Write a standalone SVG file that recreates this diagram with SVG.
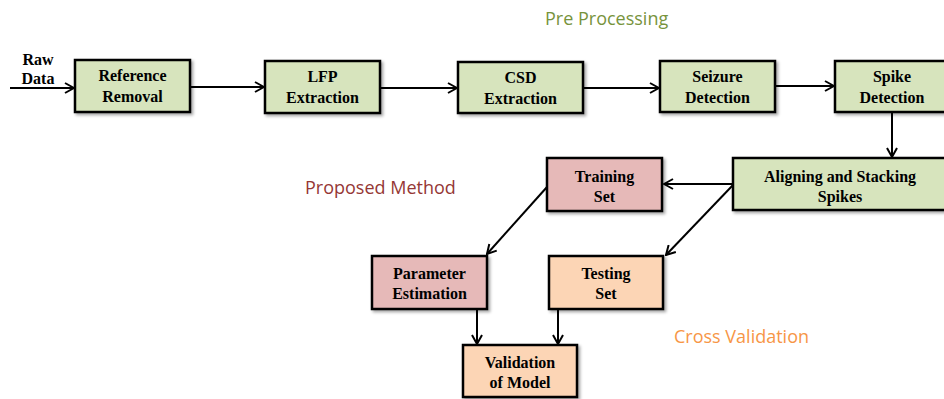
<svg xmlns="http://www.w3.org/2000/svg" width="944" height="399" viewBox="0 0 944 399">
<style>
.box{stroke:#000;stroke-width:2.5}
.g{fill:#D7E4BD}
.p{fill:#E6B9B8}
.o{fill:#FCD5B5}
.t{font-family:"Liberation Serif","Times New Roman",serif;font-weight:bold;font-size:16px;text-anchor:middle;fill:#000}
.lbl{font-family:"Open Sans","Noto Sans",sans-serif;font-size:18px}
.c{stroke:#000;stroke-width:2;fill:none;marker-end:url(#ah)}
</style>
<defs>
<marker id="ah" viewBox="0 0 12 12" refX="11" refY="6" markerWidth="12" markerHeight="12" markerUnits="userSpaceOnUse" orient="auto">
<path d="M2,1 L11,6 L2,11" fill="none" stroke="#000" stroke-width="2"/>
</marker>
<filter id="sh" x="-10%" y="-10%" width="130%" height="140%">
<feDropShadow dx="2" dy="2" stdDeviation="1.5" flood-color="#000" flood-opacity="0.35"/>
</filter>
</defs>
<rect width="944" height="399" fill="#fff"/>
<g id="labels">
<text class="lbl" x="545" y="25" fill="#77933C">Pre Processing</text>
<text class="lbl" x="305" y="194" fill="#953735">Proposed Method</text>
<text class="lbl" x="674" y="343" fill="#F79646">Cross Validation</text>
</g>
<g id="rawdata">
<text class="t" x="38" y="65">Raw</text>
<text class="t" x="38" y="84">Data</text>
</g>
<g id="connectors">
<line class="c" x1="10" y1="88" x2="74" y2="88"/>
<line class="c" x1="191" y1="87" x2="264" y2="87"/>
<line class="c" x1="381" y1="88" x2="457" y2="88"/>
<line class="c" x1="584" y1="88" x2="659" y2="88"/>
<line class="c" x1="776" y1="86" x2="834" y2="86"/>
<line class="c" x1="892" y1="113" x2="892" y2="157"/>
<line class="c" x1="733" y1="184" x2="664" y2="184"/>
<line class="c" x1="733" y1="185" x2="666" y2="255"/>
<line class="c" x1="547" y1="187" x2="487" y2="254"/>
<line class="c" x1="477" y1="310" x2="477" y2="344"/>
<line class="c" x1="558" y1="310" x2="558" y2="344"/>
</g>
<g id="reference-removal">
<rect class="box g" filter="url(#sh)" x="75" y="60" width="115" height="52"/>
<text class="t" x="132.5" y="81">Reference</text>
<text class="t" x="132.5" y="102">Removal</text>
</g>
<g id="lfp-extraction">
<rect class="box g" filter="url(#sh)" x="265" y="61" width="115" height="52"/>
<text class="t" x="322.5" y="82">LFP</text>
<text class="t" x="322.5" y="103">Extraction</text>
</g>
<g id="csd-extraction">
<rect class="box g" filter="url(#sh)" x="458" y="62" width="125" height="51"/>
<text class="t" x="520.5" y="83">CSD</text>
<text class="t" x="520.5" y="104">Extraction</text>
</g>
<g id="seizure-detection">
<rect class="box g" filter="url(#sh)" x="660" y="61" width="115" height="51"/>
<text class="t" x="717.5" y="82">Seizure</text>
<text class="t" x="717.5" y="103">Detection</text>
</g>
<g id="spike-detection">
<rect class="box g" filter="url(#sh)" x="835" y="61" width="114" height="51"/>
<text class="t" x="892" y="82">Spike</text>
<text class="t" x="892" y="103">Detection</text>
</g>
<g id="aligning-stacking">
<rect class="box g" filter="url(#sh)" x="733" y="158" width="214" height="52"/>
<text class="t" x="840" y="182">Aligning and Stacking</text>
<text class="t" x="840" y="202">Spikes</text>
</g>
<g id="training-set">
<rect class="box p" filter="url(#sh)" x="547" y="158" width="115" height="53"/>
<text class="t" x="604.5" y="182">Training</text>
<text class="t" x="604.5" y="202">Set</text>
</g>
<g id="parameter-estimation">
<rect class="box p" filter="url(#sh)" x="372" y="256" width="115" height="53"/>
<text class="t" x="429.5" y="279">Parameter</text>
<text class="t" x="429.5" y="299">Estimation</text>
</g>
<g id="testing-set">
<rect class="box o" filter="url(#sh)" x="549" y="256" width="114" height="53"/>
<text class="t" x="606" y="279">Testing</text>
<text class="t" x="606" y="299">Set</text>
</g>
<g id="validation-model">
<rect class="box o" filter="url(#sh)" x="463" y="345" width="114" height="52"/>
<text class="t" x="520" y="368">Validation</text>
<text class="t" x="520" y="388">of Model</text>
</g>
</svg>
